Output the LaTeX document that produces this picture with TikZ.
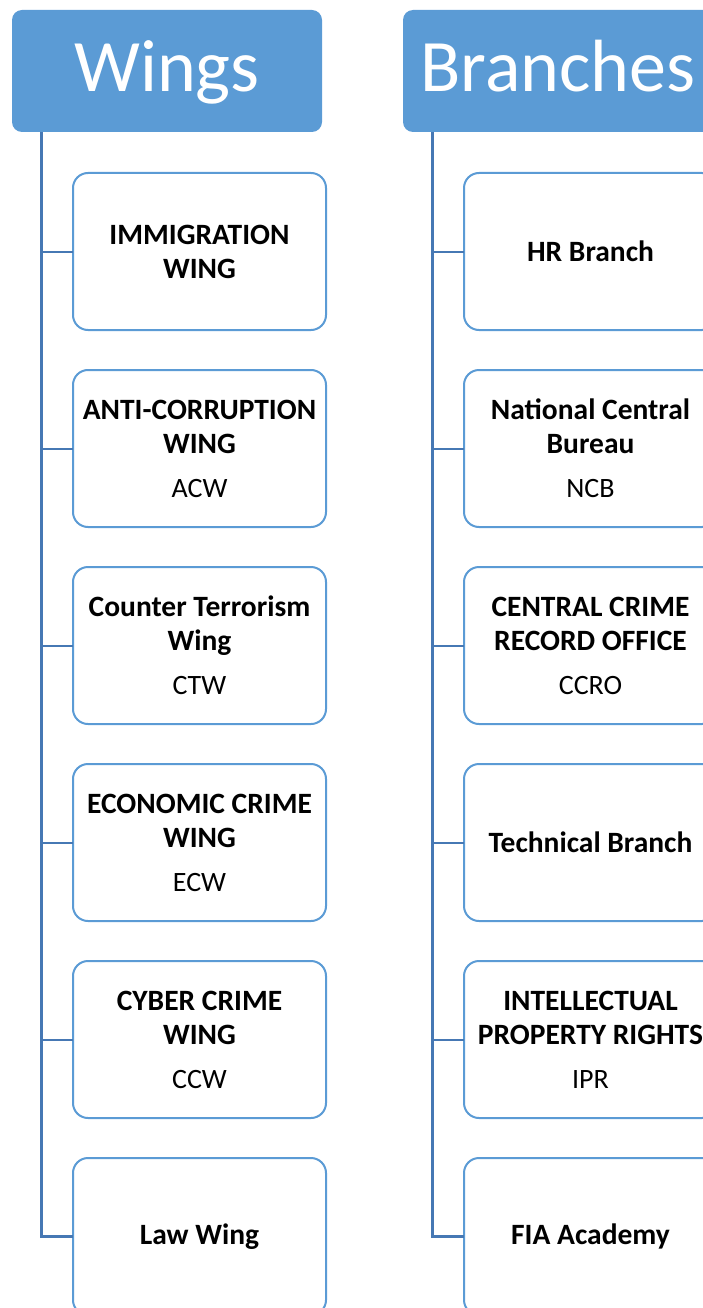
\documentclass[tikz,border=0pt]{standalone}
\usepackage{fontspec}
\setmainfont{Carlito}
\usepackage{tikz}
\usetikzlibrary{calc,positioning}
\definecolor{headblue}{HTML}{5B9BD5}
\definecolor{lineblue}{HTML}{4678B4}
\newcommand{\unitname}[1]{{\fontsize{29.5}{34}\selectfont\bfseries #1}}
\tikzstyle{header}=[fill=headblue, rounded corners=10pt, minimum width=310pt, minimum height=122pt, inner sep=0pt, text height=56pt, text depth=14pt, text=white, font=\fontsize{74}{80}\selectfont]
\tikzstyle{unit}=[draw=headblue, line width=2pt, fill=white, rounded corners=15pt, minimum width=253pt, minimum height=157pt, inner sep=0pt, outer sep=0pt, align=center, font=\fontsize{28}{34}\selectfont]
\tikzset{%
    trunk/.style={draw=lineblue, line width=3pt},
    branchlink/.style={draw=lineblue, line width=2pt},
  }

\begin{document}
\begin{tikzpicture}[x=1pt, y=-1pt, node distance=40pt]
    \useasboundingbox (0,0) rectangle (703,1308);
    \clip (0,0) rectangle (703,1308);
    %
    \node (wings) [header] at (167,71) {Wings};
    \node (w1) [unit] at (199.5,251.5) {\unitname{IMMIGRATION}\\\unitname{WING}};
    \node (w2) [unit, below=of w1] {\unitname{ANTI-CORRUPTION}\\\unitname{WING}\\[10pt]ACW};
    \node (w3) [unit, below=of w2] {\unitname{Counter Terrorism}\\\unitname{Wing}\\[10pt]CTW};
    \node (w4) [unit, below=of w3] {\unitname{ECONOMIC CRIME}\\\unitname{WING}\\[10pt]ECW};
    \node (w5) [unit, below=of w4] {\unitname{CYBER CRIME}\\\unitname{WING}\\[10pt]CCW};
    \node (w6) [unit, below=of w5] {\unitname{Law Wing}};
    %
    \coordinate (wt) at ($(wings.south west)+(30,0)$);
    \draw [trunk] (wt) |- (w6.west);
    \draw [branchlink] (wt |- w1.west) -- (w1.west);
    \draw [branchlink] (wt |- w2.west) -- (w2.west);
    \draw [branchlink] (wt |- w3.west) -- (w3.west);
    \draw [branchlink] (wt |- w4.west) -- (w4.west);
    \draw [branchlink] (wt |- w5.west) -- (w5.west);
    %
    \node (branches) [header] at (558,71) {Branches};
    \node (b1) [unit] at (590.5,251.5) {\unitname{HR Branch}};
    \node (b2) [unit, below=of b1] {\unitname{National Central}\\\unitname{Bureau}\\[10pt]NCB};
    \node (b3) [unit, below=of b2] {\unitname{CENTRAL CRIME}\\\unitname{RECORD OFFICE}\\[10pt]CCRO};
    \node (b4) [unit, below=of b3] {\unitname{Technical Branch}};
    \node (b5) [unit, below=of b4] {\unitname{INTELLECTUAL}\\\unitname{PROPERTY RIGHTS}\\[10pt]IPR};
    \node (b6) [unit, below=of b5] {\unitname{FIA Academy}};
    %
    \coordinate (bt) at ($(branches.south west)+(30,0)$);
    \draw [trunk] (bt) |- (b6.west);
    \draw [branchlink] (bt |- b1.west) -- (b1.west);
    \draw [branchlink] (bt |- b2.west) -- (b2.west);
    \draw [branchlink] (bt |- b3.west) -- (b3.west);
    \draw [branchlink] (bt |- b4.west) -- (b4.west);
    \draw [branchlink] (bt |- b5.west) -- (b5.west);
  \end{tikzpicture}
\end{document}
